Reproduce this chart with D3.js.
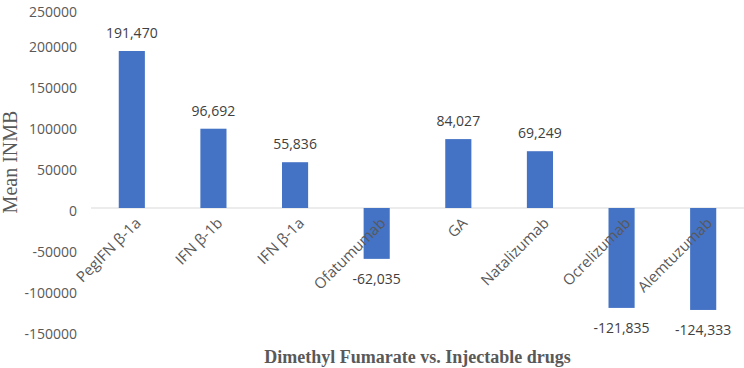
<!DOCTYPE html>
<html>
<head>
<meta charset="utf-8">
<script src="https://cdn.jsdelivr.net/npm/d3@7"></script>
<style>
  body { margin: 0; background: #fff; }
  svg { display: block; }
</style>
</head>
<body>
<div id="chart"></div>
<script>
const drugs = ["PegIFN β-1a", "IFN β-1b", "IFN β-1a", "Ofatumumab", "GA", "Natalizumab", "Ocrelizumab", "Alemtuzumab"];
const meanINMB = [191470, 96692, 55836, -62035, 84027, 69249, -121835, -124333];
const yTicks = [250000, 200000, 150000, 100000, 50000, 0, -50000, -100000, -150000];

const width = 744, height = 368;
const plot = {left: 91, right: 744, top: 3, bottom: 331};

// plain hyphen for negatives, like the original
const locale = d3.formatLocale({decimal: ".", thousands: ",", grouping: [3], currency: ["", ""], minus: "-"});

const svg = d3.select("#chart")
              .append("svg")
              .attr("width", width)
              .attr("height", height);

const x = d3.scaleBand()
            .domain(drugs)
            .range([plot.left, plot.right])
            .paddingInner(0.68)
            .paddingOuter(0.34);

const y = d3.scaleLinear()
            .domain([-150000, 250000])
            .range([plot.bottom, plot.top]);

// y axis labels, no line
const yAxis = svg.append("g")
                 .attr("transform", `translate(${plot.left - 14},0)`)
                 .call(d3.axisLeft(y).tickValues(yTicks).tickSize(0).tickPadding(0).tickFormat(locale.format("d")));
yAxis.select(".domain").remove();
yAxis.selectAll("text")
     .attr("dy", null)
     .attr("y", d => Math.max(7, 16 - y(d))) // keep the top label inside the page
     .style("font-family", "'Open Sans', sans-serif")
     .style("font-size", "14px")
     .attr("fill", "#595959");

// zero line
svg.append("line")
   .attr("x1", plot.left)
   .attr("x2", plot.right)
   .attr("y1", y(0))
   .attr("y2", y(0))
   .attr("stroke", "#d9d9d9")
   .attr("stroke-width", 1.2);

const data = drugs.map((d, i) => ({drug: d, value: meanINMB[i]}));

svg.selectAll("rect.bar")
   .data(data)
   .enter()
   .append("rect")
   .attr("class", "bar")
   .attr("x", d => x(d.drug))
   .attr("width", x.bandwidth())
   .attr("y", d => y(Math.max(0, d.value)))
   .attr("height", d => Math.abs(y(d.value) - y(0)))
   .attr("fill", "#4472c4");

// data labels
svg.selectAll("text.val")
   .data(data)
   .enter()
   .append("text")
   .attr("class", "val")
   .attr("x", d => x(d.drug) + x.bandwidth() / 2)
   .attr("y", d => d.value >= 0 ? y(d.value) - 13 : y(d.value) + 25)
   .attr("text-anchor", "middle")
   .style("font-family", "'Open Sans', sans-serif")
   .style("font-size", "14px")
   .attr("fill", "#404040")
   .text(d => locale.format(",")(d.value));

// category labels, rotated
svg.selectAll("text.cat")
   .data(drugs)
   .enter()
   .append("text")
   .attr("class", "cat")
   .attr("transform", d => `translate(${x(d) + x.bandwidth() / 2 + 10},${y(0) + 16}) rotate(-45)`)
   .attr("text-anchor", "end")
   .style("font-family", "'Open Sans', sans-serif")
   .style("font-size", "15px")
   .attr("fill", "#595959")
   .text(d => d);

// axis titles
svg.append("text")
   .attr("x", (plot.left + plot.right) / 2)
   .attr("y", 363)
   .attr("text-anchor", "middle")
   .style("font-family", "'Liberation Serif', 'Times New Roman', serif")
   .style("font-size", "18px")
   .style("font-weight", "bold")
   .attr("fill", "#595959")
   .text("Dimethyl Fumarate vs. Injectable drugs");

svg.append("text")
   .attr("transform", `translate(10,${(plot.top + plot.bottom) / 2 - 5}) rotate(-90)`)
   .attr("text-anchor", "middle")
   .attr("dy", "0.35em")
   .style("font-family", "'Liberation Serif', 'Times New Roman', serif")
   .style("font-size", "20px")
   .attr("fill", "#595959")
   .text("Mean INMB");
</script>
</body>
</html>
